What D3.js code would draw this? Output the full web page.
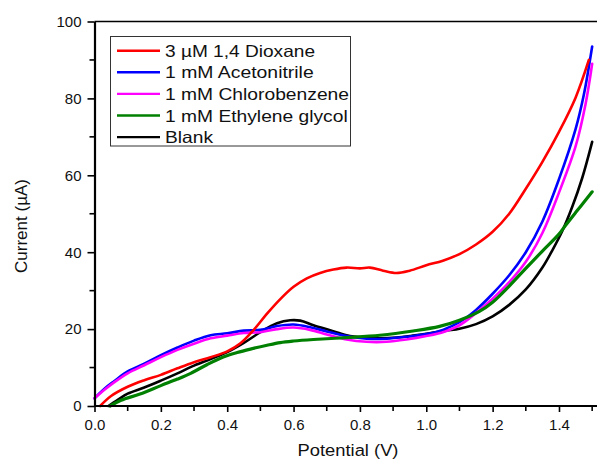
<!DOCTYPE html>
<html><head><meta charset="utf-8">
<script src="https://cdnjs.cloudflare.com/ajax/libs/d3/7.8.5/d3.min.js"></script>
<style>
body{margin:0;background:#fff;}
svg{display:block;font-family:"Liberation Sans",Arial,sans-serif;}
</style></head>
<body>
<svg id="chart" width="597" height="461"></svg>
<script>
// ---- data (Potential V, Current µA) ----
const seriesNames = ["3 \u00B5M 1,4 Dioxane","1 mM Acetonitrile","1 mM Chlorobenzene","1 mM Ethylene glycol","Blank"];
const seriesColors = ["#ff0000","#0000ff","#ff00ff","#008000","#000000"];

const dioxane = [[0.017,0],[0.05,2.6],[0.1,5],[0.15,6.7],[0.2,8.1],[0.25,9.8],[0.3,11.4],[0.35,12.7],[0.4,14.2],[0.44,16.3],[0.48,19.8],[0.52,24],[0.56,27.8],[0.6,31],[0.64,33.2],[0.68,34.6],[0.72,35.5],[0.76,36],[0.8,35.8],[0.83,36],[0.87,35.2],[0.91,34.6],[0.95,35.2],[1.0,36.6],[1.05,37.8],[1.1,39.5],[1.15,42],[1.2,45.3],[1.25,50],[1.3,56.5],[1.35,63.5],[1.4,71.3],[1.45,80.2],[1.49,90]];
const acetonitrile = [[0,2],[0.03,4.5],[0.06,6.5],[0.1,9],[0.15,11],[0.2,13.2],[0.25,15.2],[0.3,17],[0.35,18.4],[0.4,18.9],[0.45,19.6],[0.5,19.8],[0.55,20.8],[0.6,21.2],[0.65,20.5],[0.7,19.4],[0.76,18.2],[0.82,17.5],[0.88,17.5],[0.94,18],[1.0,18.7],[1.05,19.8],[1.1,21.8],[1.15,25],[1.2,29.2],[1.25,34],[1.3,40],[1.35,48],[1.4,59],[1.45,72],[1.475,81],[1.5,93.5]];
const chlorobenzene = [[0,2],[0.03,4.2],[0.06,6.2],[0.1,8.5],[0.15,10.6],[0.2,12.7],[0.25,14.6],[0.3,16.2],[0.35,17.6],[0.4,18.3],[0.45,19],[0.5,19.2],[0.55,20],[0.6,20.4],[0.65,19.8],[0.7,18.6],[0.76,17.3],[0.82,16.7],[0.88,16.7],[0.94,17.3],[1.0,18.2],[1.05,19.2],[1.1,21],[1.15,24.2],[1.2,27.9],[1.25,32.2],[1.3,37.5],[1.35,45],[1.4,55.5],[1.45,67.5],[1.48,78.5],[1.5,89]];
const ethyleneGlycol = [[0.047,0],[0.08,1.5],[0.137,3.1],[0.2,5.3],[0.25,7],[0.29,8.5],[0.34,10.8],[0.39,12.8],[0.43,13.9],[0.47,14.8],[0.52,15.8],[0.56,16.5],[0.6,16.9],[0.66,17.3],[0.76,17.8],[0.86,18.4],[0.96,19.5],[1.04,20.7],[1.1,22.3],[1.16,24.6],[1.2,27],[1.25,31.2],[1.3,35.8],[1.35,40.3],[1.4,44.7],[1.42,47],[1.45,50.3],[1.475,53],[1.5,55.7]];
const blank = [[0.042,0],[0.07,1.6],[0.1,3.2],[0.15,4.8],[0.2,6.6],[0.25,8.5],[0.3,10.5],[0.35,12.2],[0.4,14],[0.45,16.4],[0.5,19.2],[0.55,21.5],[0.59,22.3],[0.62,22.2],[0.66,21],[0.71,19.7],[0.76,18.4],[0.81,17.8],[0.86,17.6],[0.91,17.8],[0.96,18.3],[1.01,18.9],[1.06,19.6],[1.1,20.1],[1.15,21.3],[1.2,23.3],[1.25,26.3],[1.3,30.3],[1.35,36],[1.38,40.5],[1.41,45.5],[1.44,51.8],[1.47,59.3],[1.5,68.7]];

const xMajorTicks = [0,0.2,0.4,0.6,0.8,1.0,1.2,1.4];
const xMinorTicks = [0.1,0.3,0.5,0.7,0.9,1.1,1.3,1.5];
const yMajorTicks = [0,20,40,60,80,100];
const yMinorTicks = [10,30,50,70,90];

const seriesData = [dioxane, acetonitrile, chlorobenzene, ethyleneGlycol, blank];
// drawing order (last on top)
const drawOrder = [4,1,2,3,0];
// legend label widths (px) as seen in the reference
const legendWidths = [150,148.7,184,182.7,48];

const svg = d3.select("#chart");
const x = d3.scaleLinear().domain([0,1.52]).range([94.5,598.8]);
const y = d3.scaleLinear().domain([0,100]).range([406,21.5]);

// top frame
svg.append("line").attr("x1",x(0)).attr("x2",600).attr("y1",y(100)).attr("y2",y(100))
  .attr("stroke","#000").attr("stroke-width",1.6);
svg.append("line").attr("x1",x(1.52)).attr("x2",x(1.52)).attr("y1",y(100)).attr("y2",y(0))
  .attr("stroke","#000").attr("stroke-width",1.6);

// curves
const line = d3.line().x(d=>x(d[0])).y(d=>y(d[1])).curve(d3.curveCatmullRom.alpha(0.5));
drawOrder.forEach(i=>{
  svg.append("path").datum(seriesData[i]).attr("d",line)
    .attr("fill","none").attr("stroke",seriesColors[i])
    .attr("stroke-width", i===3 ? 3.2 : 2.6).attr("stroke-linejoin","round").attr("stroke-linecap","round");
});

// axes
const fontTick = "15px";
const xAxis = svg.append("g").attr("transform",`translate(0,${y(0)})`)
  .call(d3.axisBottom(x).tickValues(xMajorTicks).tickFormat(d3.format(".1f")).tickSize(6).tickPadding(7).tickSizeOuter(0));
xAxis.selectAll(".tick line").attr("stroke-width",1.6);
xAxis.append("g").selectAll("line").data(xMinorTicks).join("line")
  .attr("x1",d=>x(d)).attr("x2",d=>x(d)).attr("y1",0).attr("y2",5).attr("stroke","#000").attr("stroke-width",1.6);
xAxis.select(".domain").attr("stroke-width",2).attr("d",`M${x(0)},0H600`);
xAxis.selectAll("text").attr("font-size",fontTick).attr("fill","#111").attr("font-family","'Liberation Sans',Arial,sans-serif");

const yAxis = svg.append("g").attr("transform",`translate(${x(0)},0)`)
  .call(d3.axisLeft(y).tickValues(yMajorTicks).tickSize(7).tickPadding(6).tickSizeOuter(0));
yAxis.selectAll(".tick line").attr("stroke-width",1.6);
yAxis.append("g").selectAll("line").data(yMinorTicks).join("line")
  .attr("y1",d=>y(d)).attr("y2",d=>y(d)).attr("x1",0).attr("x2",-5).attr("stroke","#000").attr("stroke-width",1.6);
yAxis.select(".domain").attr("stroke-width",2.2);
yAxis.selectAll("text").attr("font-size",fontTick).attr("fill","#111").attr("font-family","'Liberation Sans',Arial,sans-serif");

// axis titles
svg.append("text").attr("x",348).attr("y",456).attr("text-anchor","middle")
  .attr("font-size","17px").attr("fill","#111")
  .attr("transform","translate(348,0) scale(1.08,1) translate(-348,0)")
  .text("Potential (V)");
svg.append("text").attr("transform","translate(27,226) rotate(-90)").attr("text-anchor","middle")
  .attr("font-size","17px").attr("fill","#111").text("Current (\u00B5A)");

// legend
const lg = svg.append("g");
lg.append("rect").attr("x",110.5).attr("y",36.5).attr("width",240).attr("height",109.5)
  .attr("fill","#fff").attr("stroke","#333").attr("stroke-width",1);
seriesNames.forEach((name,i)=>{
  const cy = 50.7 + i*21.6;
  lg.append("line").attr("x1",117).attr("x2",160).attr("y1",cy).attr("y2",cy)
    .attr("stroke",seriesColors[i]).attr("stroke-width",2.4);
  lg.append("text").attr("x",165).attr("y",cy+6)
    .attr("textLength",legendWidths[i]).attr("lengthAdjust","spacingAndGlyphs")
    .attr("font-size","16.5px").attr("fill","#111").text(name);
});
</script>
</body></html>
